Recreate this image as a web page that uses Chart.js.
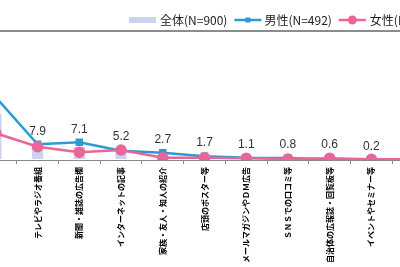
<!DOCTYPE html>
<html lang="ja">
<head>
<meta charset="UTF-8">
<title>認知経路</title>
<script src="https://cdn.jsdelivr.net/npm/chart.js"></script>
<style>
  html, body { margin: 0; padding: 0; background: #fff; overflow: hidden; }
  body { width: 400px; height: 267px; position: relative; }
  #wrap { position: absolute; left: -32px; top: 0; }
</style>
</head>
<body>
<div id="wrap"><canvas id="chart" width="473" height="267"></canvas></div>
<script>
// 回答項目（左端・右端は枠外）
const categories = [
  '特に知らない',
  'テレビやラジオ番組',
  '新聞・雑誌の広告欄',
  'インターネットの記事',
  '家族・友人・知人の紹介',
  '店頭のポスター等',
  'メールマガジンやＤＭ広告',
  'ＳＮＳでの口コミ等',
  '自治体の広報誌・回覧板等',
  'イベントやセミナー等',
  'その他'
];
const totalValues  = [25.0, 7.9, 7.1, 5.2, 2.7, 1.7, 1.1, 0.8, 0.6, 0.2, 0.3];
const maleValues   = [34.0, 8.5, 9.6, 5.0, 3.9, 2.1, 1.2, 1.1, 0.3, 0.0, 0.2];
const femaleValues = [14.5, 7.2, 4.2, 5.4, 1.2, 1.2, 1.0, 0.5, 1.0, 0.4, 0.4];
const seriesLabels = ['全体(N=900)', '男性(N=492)', '女性(N=408)'];
const yMax = 70;

const colTotal = '#cdd2ee';
const colMale = '#2a9bd4';
const colFemale = '#e8669a';

// 全体の値を折れ線の上に表示（先頭項目のラベルは枠外なので省く）
const valueLabels = {
  id: 'valueLabels',
  afterDatasetsDraw(chart) {
    const { ctx, scales } = chart;
    ctx.save();
    ctx.font = '12px "Liberation Sans", Arial, sans-serif';
    ctx.fillStyle = '#333';
    ctx.textAlign = 'center';
    ctx.textBaseline = 'middle';
    totalValues.forEach((v, i) => {
      if (i === 0) return;
      const top = Math.max(v, maleValues[i], femaleValues[i]);
      const x = scales.x.getPixelForValue(i);
      const y = scales.y.getPixelForValue(top) - 13;
      ctx.fillText(v.toFixed(1), x, y);
    });
    ctx.restore();
  }
};

// 凡例（線＋マーカー）
const legendLine = {
  id: 'legendLine',
  afterDraw(chart) {
    const ctx = chart.ctx;
    const y = 20;
    let x = 161;
    ctx.save();
    ctx.font = '12px "Noto Sans CJK JP", sans-serif';
    ctx.textBaseline = 'middle';
    ctx.fillStyle = colTotal;
    ctx.fillRect(x, y - 3, 27, 6);
    x += 31;
    ctx.fillStyle = '#222';
    ctx.fillText(seriesLabels[0], x, y);
    x += ctx.measureText(seriesLabels[0]).width + 7;

    ctx.strokeStyle = colMale;
    ctx.lineWidth = 2.5;
    ctx.beginPath(); ctx.moveTo(x, y); ctx.lineTo(x + 27, y); ctx.stroke();
    ctx.fillStyle = colMale;
    ctx.fillRect(x + 11, y - 2.5, 5, 5);
    x += 30;
    ctx.fillStyle = '#222';
    ctx.fillText(seriesLabels[1], x, y);
    x += ctx.measureText(seriesLabels[1]).width + 7;

    ctx.strokeStyle = colFemale;
    ctx.beginPath(); ctx.moveTo(x, y); ctx.lineTo(x + 27, y); ctx.stroke();
    ctx.fillStyle = colFemale;
    ctx.beginPath(); ctx.arc(x + 13.5, y, 4.5, 0, Math.PI * 2); ctx.fill();
    x += 31;
    ctx.fillStyle = '#222';
    ctx.fillText(seriesLabels[2], x, y);
    ctx.restore();
  }
};

new Chart(document.getElementById('chart'), {
  type: 'bar',
  data: {
    labels: categories,
    datasets: [
      {
        type: 'line',
        label: seriesLabels[2],
        data: femaleValues,
        borderColor: colFemale,
        backgroundColor: colFemale,
        borderWidth: 2.5,
        pointStyle: 'circle',
        pointRadius: 4.5,
        tension: 0,
        order: 1
      },
      {
        type: 'line',
        label: seriesLabels[1],
        data: maleValues,
        borderColor: colMale,
        backgroundColor: colMale,
        borderWidth: 2.5,
        pointStyle: 'rect',
        pointRadius: 3.5,
        tension: 0,
        order: 2
      },
      {
        label: seriesLabels[0],
        data: totalValues,
        backgroundColor: colTotal,
        barPercentage: 0.27,
        categoryPercentage: 1,
        order: 3
      }
    ]
  },
  options: {
    responsive: false,
    animation: false,
    devicePixelRatio: 1,
    layout: { padding: { top: 31, left: 0, right: 0, bottom: 0 } },
    plugins: {
      legend: { display: false },
      tooltip: { enabled: false }
    },
    scales: {
      x: {
        afterFit(axis) { axis.height = 107; },
        border: { color: '#8a8a8a', width: 1 },
        grid: { drawOnChartArea: false, color: '#8a8a8a', tickLength: 4, offset: true },
        ticks: {
          autoSkip: false,
          minRotation: 90,
          maxRotation: 90,
          padding: 3,
          color: '#000',
          font: { family: '"Noto Sans CJK JP", sans-serif', size: 8, weight: 'bold' }
        }
      },
      y: {
        min: 0,
        max: yMax,
        afterFit(axis) { axis.width = 0; },
        border: { display: false },
        ticks: { display: false, stepSize: yMax },
        grid: {
          drawTicks: false,
          lineWidth: 2,
          color: (c) => (c.tick && c.tick.value === yMax ? '#8c8c8c' : 'rgba(0,0,0,0)')
        }
      }
    }
  },
  plugins: [valueLabels, legendLine]
});
</script>
</body>
</html>
